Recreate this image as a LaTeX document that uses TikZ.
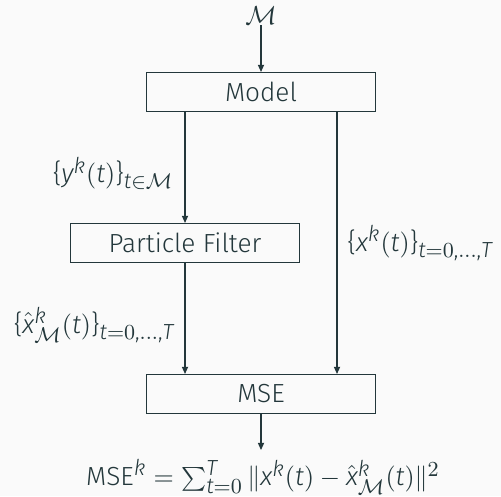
\documentclass[tikz,border=0pt]{standalone}
\usepackage{fontspec}
\setmainfont{Fira Sans}[UprightFont=* Light, ItalicFont=* Light Italic]
\usepackage[italic]{mathastext}
\usetikzlibrary{arrows.meta,calc}
\definecolor{fg}{HTML}{23373B}
\definecolor{bg}{HTML}{FAFAFA}
\newcommand{\mminus}{\mathchar"2200}
\begin{document}
\begin{tikzpicture}[x=0.42pt,y=-0.42pt,
  box/.style={draw=fg,line width=0.45pt,minimum width=95.8pt,minimum height=16.4pt,inner sep=0pt,text=fg,font=\fontsize{11}{13}\selectfont},
  lbl/.style={text=fg,inner sep=0pt,font=\fontsize{11}{13}\selectfont},
  conn/.style={draw=fg,line width=0.45pt},
  arr/.style={conn,-{Triangle[length=3pt,width=2.6pt]}}]
\fill[bg] (0,0) rectangle (501,496);
\useasboundingbox (0,0) rectangle (501,496);
\node[lbl] (m) at (261,16) {$\mathcal{M}$};
\node[box] (model) at (261,92) {Model};
\node[box] (pf) at (185,243) {Particle Filter};
\node[box] (mse) at (261,394) {MSE};
\node[lbl] (out) at (263,477) {$\mathrm{MSE}^k = \sum_{t=0}^{T} \|x^k(t) \mminus \hat{x}^k_{\mathcal{M}}(t)\|^2$};
\coordinate (r) at (337,0);
\coordinate (outtop) at (261,450);
\draw[arr] (m.south) -- (model.north);
\draw[arr] (pf.north |- model.south) -- (pf.north);
\draw[arr] (r |- model.south) -- (r |- mse.north);
\draw[arr] (pf.south) -- (pf.south |- mse.north);
\draw[arr] (mse.south) -- (outtop);
\node[lbl,anchor=east] (ylbl) at (174,173) {$\{y^k(t)\}_{t\in\mathcal{M}}$};
\node[lbl,anchor=west] (xlbl) at (347,243) {$\{x^k(t)\}_{t=0,\ldots,T}$};
\node[lbl,anchor=east] (xhlbl) at (175,325) {$\{\hat{x}^k_{\mathcal{M}}(t)\}_{t=0,\ldots,T}$};
\end{tikzpicture}
\end{document}
